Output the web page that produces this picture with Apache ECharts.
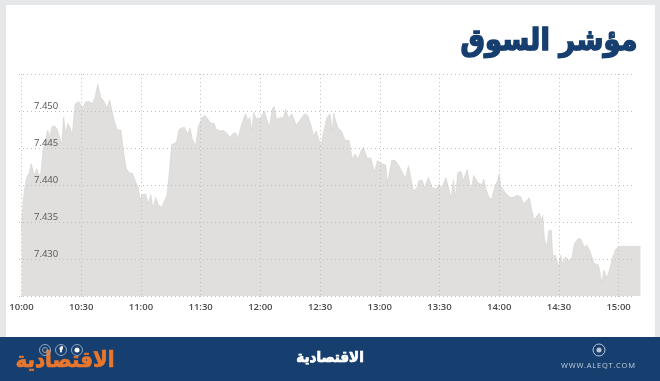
<!DOCTYPE html>
<html>
<head>
<meta charset="utf-8">
<style>
html, body { margin: 0; padding: 0; background: #e6e7e8; }
#main { width: 660px; height: 381px; }
</style>
<script src="https://cdn.jsdelivr.net/npm/echarts@6/dist/echarts.min.js"></script>
</head>
<body>
<div id="main"></div>
<script>
// minutes after 10:00 and index level
var minutes = [0, 0.8, 1.8, 2.6, 3.8, 4.9, 6, 6.8, 7.6, 8.8, 9.8, 10.8, 12.1, 13.2, 14.2, 15.2, 16.5, 17.8, 18.8, 20.2,
	21.2, 22.2, 23.2, 24.4, 25.5, 26.9, 28.6, 29.6, 30.9, 32.2, 33.9, 35.6, 36.9, 38.3, 39.1, 39.9, 41, 42, 43, 44.3,
	45.3, 46.6, 48, 50, 51.3, 52.7, 54.4, 55.7, 57.4, 58.7, 59.5, 60.4, 62.4, 63.7, 65, 66, 67.4, 68.8, 70.4, 71.4,
	73.1, 74.1, 75.5, 77.1, 78, 79.1, 80.5, 81.8, 83.5, 84.7, 85.8, 87.5, 88.9, 89.7, 90.9, 92.2, 93.4, 94.9, 96.9, 97.6,
	99.7, 101.4, 103.1, 104.8, 106.4, 107.8, 108.6, 110.6, 112, 112.6, 113.7, 114.7, 115.7, 116.7, 117.8, 120, 122, 123, 124.5, 126,
	126.9, 128.2, 129.9, 131.6, 132.7, 134.1, 135.8, 136.8, 138.1, 140.8, 142.1, 143.8, 145.5, 146.8, 148, 150.5, 151.7, 153.4, 155, 156.2,
	156.9, 157.5, 158.9, 160.9, 162.6, 164.6, 166.2, 167.6, 168.9, 170.6, 171.8, 173.5, 175.6, 177.3, 178.8, 180.7, 183, 183.8, 186, 187.7,
	189.4, 191.9, 193, 194.4, 195.2, 196.9, 198.6, 199.7, 201.4, 202.4, 204.4, 206.4, 208.5, 209.8, 211.1, 213.2, 214.2, 215.8, 217, 218,
	219.2, 220.9, 222, 223.9, 225.9, 227.2, 228.2, 229.6, 231.6, 232.2, 233.3, 234.9, 236.3, 237.9, 239.1, 240, 240.8, 242.1, 243.8, 245.5,
	247.1, 248.8, 250.8, 252.2, 254.2, 255.2, 256.4, 257.5, 259.2, 260.2, 261.1, 261.9, 262.7, 263.9, 264.9, 266.2, 266.9, 268.3, 269.8, 270.9,
	271.9, 273.3, 274.8, 276.5, 277.8, 278.6, 279.8, 281, 282.7, 284, 285.7, 287.7, 289.9, 291.5, 292.7, 294, 295.4, 297.1, 298.7, 300.4, 311];
var values = [7.4345, 7.4377, 7.4399, 7.4410, 7.4416, 7.4429, 7.4417, 7.4414, 7.4422, 7.4413, 7.4417, 7.4446, 7.4462, 7.4474, 7.4464, 7.4478, 7.4480, 7.4476, 7.4475, 7.4455,
	7.4492, 7.4469, 7.4483, 7.4478, 7.4467, 7.4509, 7.4513, 7.4515, 7.4504, 7.4512, 7.4513, 7.4510, 7.4518, 7.4536, 7.4537, 7.4518, 7.4515, 7.4517, 7.4504, 7.4515,
	7.4502, 7.4487, 7.4475, 7.4474, 7.4444, 7.4422, 7.4416, 7.4416, 7.4404, 7.4397, 7.4379, 7.4387, 7.4388, 7.4375, 7.4387, 7.4368, 7.4383, 7.4373, 7.4370, 7.4368,
	7.4386, 7.4413, 7.4455, 7.4456, 7.4460, 7.4475, 7.4477, 7.4478, 7.4469, 7.4477, 7.4462, 7.4453, 7.4480, 7.4484, 7.4492, 7.4494, 7.4490, 7.4484, 7.4483, 7.4476,
	7.4473, 7.4474, 7.4470, 7.4465, 7.4470, 7.4470, 7.4462, 7.4482, 7.4493, 7.4496, 7.4487, 7.4491, 7.4473, 7.4498, 7.4490, 7.4490, 7.4500, 7.4502, 7.4478, 7.4503,
	7.4506, 7.4489, 7.4491, 7.4491, 7.4502, 7.4491, 7.4496, 7.4496, 7.4481, 7.4491, 7.4496, 7.4494, 7.4480, 7.4466, 7.4473, 7.4452, 7.4471, 7.4491, 7.4496, 7.4473,
	7.4497, 7.4490, 7.4478, 7.4472, 7.4460, 7.4460, 7.4435, 7.4442, 7.4435, 7.4446, 7.4451, 7.4437, 7.4436, 7.4417, 7.4433, 7.4429, 7.4427, 7.4402, 7.4433, 7.4433,
	7.4427, 7.4414, 7.4410, 7.4426, 7.4424, 7.4392, 7.4396, 7.4406, 7.4406, 7.4396, 7.4410, 7.4396, 7.4395, 7.4401, 7.4396, 7.4410, 7.4408, 7.4383, 7.4407, 7.4383,
	7.4417, 7.4418, 7.4406, 7.4421, 7.4392, 7.4413, 7.4413, 7.4402, 7.4401, 7.4408, 7.4395, 7.4383, 7.4381, 7.4399, 7.4405, 7.4414, 7.4399, 7.4393, 7.4388, 7.4383,
	7.4383, 7.4386, 7.4384, 7.4375, 7.4380, 7.4383, 7.4366, 7.4353, 7.4359, 7.4362, 7.4352, 7.4359, 7.4328, 7.4316, 7.4338, 7.4339, 7.4304, 7.4305, 7.4289, 7.4305,
	7.4292, 7.4303, 7.4298, 7.4301, 7.4321, 7.4319, 7.4328, 7.4327, 7.4316, 7.4319, 7.4310, 7.4294, 7.4292, 7.4268, 7.4285, 7.4274, 7.4285, 7.4303, 7.4314, 7.4317, 7.4317];
var timeLabels = ['10:00', '10:30', '11:00', '11:30', '12:00', '12:30', '13:00', '13:30', '14:00', '14:30', '15:00'];
var levelLabels = ['7.430', '7.435', '7.440', '7.445', '7.450'];

var navy = '#163e6f';
var orange = '#e8762c';
var arabicFont = '"DejaVu Sans Condensed"';
var dots = [1, 3];

var points = [];
for (var i = 0; i < minutes.length; i++) {
	points.push([minutes[i], values[i]]);
}

//social icons in the footer
function ring(x, y, r, color) {
	return { type: 'circle', shape: { cx: x, cy: y, r: r }, style: { fill: 'none', stroke: color, lineWidth: 1 } };
}
//heavy = thicken the glyphs with an outline, the logo face is much blacker than DejaVu Bold
function label(x, y, text, size, color, align, heavy, font) {
	return { type: 'text', x: x, y: y, style: {
		text: text, fontSize: size, fill: color, align: align, verticalAlign: 'middle',
		fontWeight: heavy ? 'bold' : 'normal', fontFamily: font || arabicFont,
		stroke: heavy ? color : null, lineWidth: heavy ? 0.7 : 0
	} };
}

var myChart = echarts.init(document.getElementById('main'), null, { renderer: 'canvas' });
var option = {
	animation: false,
	backgroundColor: '#e6e7e8',
	title: {
		text: 'مؤشر السوق',
		right: 16,
		top: 22,
		textStyle: { fontFamily: arabicFont, fontSize: 30.5, fontWeight: 'bold', color: navy, textBorderColor: navy, textBorderWidth: 1.4 }
	},
	graphic: [
		{ type: 'rect', z: -10, shape: { x: 6, y: 5, width: 649, height: 332 }, style: { fill: '#fff' } },
		{ type: 'rect', z: -10, shape: { x: 0, y: 337, width: 660, height: 44 }, style: { fill: navy } },
		label(330, 358.5, 'الاقتصادية', 15, '#fff', 'center', true),
		label(65, 361, 'الاقتصادية', 22, orange, 'center', true),
		ring(45, 350, 5.5, '#8fa5c0'), ring(45, 350, 2.5, '#8fa5c0'),
		ring(61, 350, 5.5, '#8fa5c0'), label(61, 350, 'f', 7, '#fff', 'center', true),
		ring(77, 350, 5.5, '#8fa5c0'),
		{ type: 'circle', shape: { cx: 77, cy: 350, r: 2.5 }, style: { fill: '#fff' } },
		ring(599, 350, 6, '#b9c6d6'),
		{ type: 'circle', shape: { cx: 599, cy: 350, r: 2.5 }, style: { fill: '#b9c6d6' } },
		label(598, 366, 'W\u200aW\u200aW\u200a.\u200aA\u200aL\u200aE\u200aQ\u200aT\u200a.\u200aC\u200aO\u200aM', 7.5, '#c3cfdc', 'center', false, '"Open Sans"')
	],
	grid: [
		{ left: 21.5, top: 74, width: 619, height: 222 },
		{ left: 19, top: 74, width: 616, height: 222 }
	],
	xAxis: [
		{
			type: 'value',
			gridIndex: 0,
			min: 0,
			max: 311,
			interval: 30,
			z: 5,
			axisLine: { show: false },
			axisTick: { show: true, length: 3, lineStyle: { color: '#c0c0c0', type: dots } },
			splitLine: { show: true, showMaxLine: false, lineStyle: { color: '#c0c0c0', width: 1, type: dots } },
			axisLabel: {
				showMaxLabel: false,
				margin: 6,
				fontFamily: '"Open Sans"',
				fontSize: 9.5,
				fontWeight: 600,
				color: '#4a4a4a',
				formatter: function(value) {
					return timeLabels[value / 30] || '';
				}
			}
		},
		{ type: 'value', gridIndex: 1, min: 0, max: 1, show: false }
	],
	yAxis: [
		{ type: 'value', gridIndex: 0, min: 7.425, max: 7.455, show: false },
		{
			type: 'value',
			gridIndex: 1,
			min: 7.425,
			max: 7.455,
			interval: 0.005,
			z: 5,
			axisLine: { show: false },
			axisTick: { show: false },
			splitLine: { show: true, lineStyle: { color: '#c0c0c0', width: 1, type: dots } },
			axisLabel: {
				inside: true,
				margin: 15,
				verticalAlign: 'bottom',
				lineHeight: 10,
				fontFamily: '"Open Sans"',
				fontSize: 9.5,
				color: '#555',
				formatter: function(value) {
					var text = value.toFixed(3);
					return levelLabels.indexOf(text) >= 0 ? text : '';
				}
			}
		}
	],
	series: [
		{
			type: 'line',
			xAxisIndex: 0,
			yAxisIndex: 0,
			data: points,
			showSymbol: false,
			lineStyle: { color: '#d3d1cf', width: 0.6 },
			areaStyle: { color: '#e1dfdd', opacity: 1 }
		}
	]
};
myChart.setOption(option);
</script>
</body>
</html>
